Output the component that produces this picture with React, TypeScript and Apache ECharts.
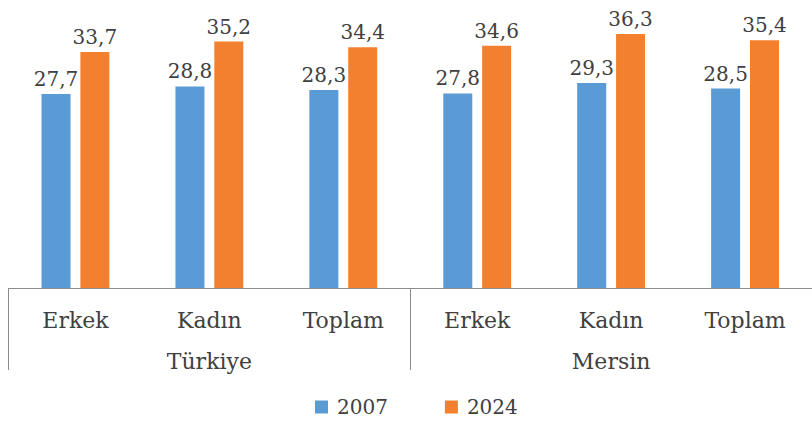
import React, { useEffect, useRef } from "react";
import * as echarts from "echarts";

const categories = ["Erkek", "Kadın", "Toplam", "Erkek", "Kadın", "Toplam"];
const groups = ["Türkiye", "Mersin"];
const seriesNames = ["2007", "2024"];
const values2007 = [27.7, 28.8, 28.3, 27.8, 29.3, 28.5];
const values2024 = [33.7, 35.2, 34.4, 34.6, 36.3, 35.4];

const FONT = "DejaVu Serif";
const TEXT = "#404040";
const AXIS = "#8c8c8c";

export default function App() {
  const ref = useRef<HTMLDivElement>(null);
  useEffect(() => {
    if (!ref.current) return;
    const chart = echarts.init(ref.current, null, { renderer: "svg" });
    const label = {
      show: true,
      position: "top" as const,
      distance: 5,
      color: TEXT,
      fontFamily: FONT,
      fontSize: 20,
      formatter: (p: any) => String(p.value).replace(".", ","),
    };
    chart.setOption({
      animation: false,
      backgroundColor: "#ffffff",
      textStyle: { fontFamily: FONT },
      grid: { left: 8.5, width: 810, top: 8, bottom: 135, containLabel: false },
      legend: {
        data: seriesNames,
        top: 397,
        left: 315,
        padding: 0,
        itemWidth: 13,
        itemHeight: 13,
        itemGap: 57,
        icon: "rect",
        textStyle: { color: TEXT, fontFamily: FONT, fontSize: 20, padding: [0, 0, 0, 4] },
      },
      xAxis: [
        {
          type: "category",
          data: categories,
          position: "bottom",
          axisLine: { show: true, lineStyle: { color: AXIS, width: 1 } },
          axisTick: { show: false },
          axisLabel: { color: TEXT, fontFamily: FONT, fontSize: 22, margin: 21, interval: 0 },
        },
        {
          type: "category",
          data: groups,
          position: "bottom",
          offset: 0,
          axisLine: { show: false },
          axisTick: { show: true, length: 82, interval: 0, lineStyle: { color: AXIS, width: 1 } },
          axisLabel: { color: TEXT, fontFamily: FONT, fontSize: 22, margin: 62, interval: 0 },
        },
      ],
      yAxis: {
        type: "value",
        min: 0,
        max: 40,
        show: false,
        splitLine: { show: false },
      },
      series: [
        {
          name: seriesNames[0],
          type: "bar",
          data: values2007,
          xAxisIndex: 0,
          barWidth: 29,
          barGap: "34%",
          itemStyle: { color: "#5B9BD5" },
          label,
        },
        {
          name: seriesNames[1],
          type: "bar",
          data: values2024,
          xAxisIndex: 0,
          barWidth: 29,
          barGap: "34%",
          itemStyle: { color: "#F3802F" },
          label,
        },
      ],
    });
    return () => chart.dispose();
  }, []);
  return (
    <div
      ref={ref}
      style={{ position: "absolute", left: 0, top: 0, width: 812, height: 423 }}
    />
  );
}
